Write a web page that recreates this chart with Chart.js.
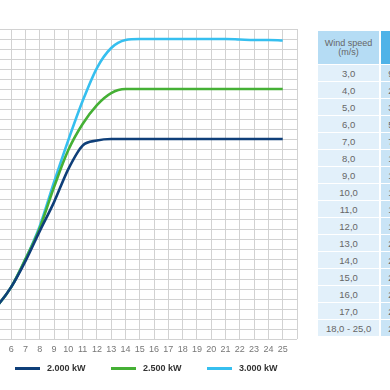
<!DOCTYPE html>
<html>
<head>
<meta charset="utf-8">
<script src="https://cdn.jsdelivr.net/npm/chart.js@4.4.1/dist/chart.umd.min.js"></script>
<style>
    body { margin: 0; background: #fff; width: 390px; height: 390px; overflow: hidden; position: relative; font-family: "Liberation Sans", Arial, sans-serif; }
    #chartBox { position: absolute; left: 0; top: 0; width: 302px; height: 390px; }
    #legend { position: absolute; left: 15px; top: 362px; display: flex; }
    .legendItem { width: 96px; display: flex; align-items: center; font-size: 9px; font-weight: bold; color: #333; height: 12px; }
    .legendLine { width: 25px; height: 3px; margin-right: 7px; }
    #powerTable { position: absolute; left: 318px; top: 30px; width: 104px; table-layout: fixed; border-collapse: separate; border-spacing: 0 1px; color: #666; white-space: nowrap; }
    #powerTable th { background: #b5dcf4; font-weight: normal; font-size: 9px; line-height: 9px; height: 33px; width: 60px; padding: 0; }
    #powerTable th.power { background: #4fb3e8; width: 40px; border-left: 2px solid #fff; }
    #powerTable td { background: #e2f0fa; font-size: 9.5px; height: 16px; text-align: center; padding: 0; }
    #powerTable td.power { background: #c9e4f6; text-align: left; padding-left: 7px; border-left: 2px solid #fff; }
</style>
</head>
<body>
<div id="chartBox"><canvas id="powerCanvas"></canvas></div>
<div id="legend"></div>
<table id="powerTable"></table>
<script>
let windSpeeds = [3, 4, 5, 6, 7, 8, 9, 10, 11, 12, 13, 14, 15, 16, 17, 18, 19, 20, 21, 22, 23, 24, 25];
let power2000 = [90, 200, 330, 520, 780, 1080, 1370, 1700, 1935, 1985, 2000, 2000, 2000, 2000, 2000, 2000, 2000, 2000, 2000, 2000, 2000, 2000, 2000];
let power2500 = [90, 200, 330, 520, 800, 1110, 1520, 1890, 2150, 2340, 2460, 2500, 2500, 2500, 2500, 2500, 2500, 2500, 2500, 2500, 2500, 2500, 2500];
let power3000 = [90, 200, 330, 520, 800, 1130, 1570, 1990, 2380, 2710, 2910, 2990, 3000, 3000, 3000, 3000, 3000, 3000, 3000, 2995, 2990, 2990, 2985];
let seriesLabels = ['2.000 kW', '2.500 kW', '3.000 kW'];
let seriesColors = ['#0f3f79', '#45b035', '#36bfef'];
let xTicks = [6, 7, 8, 9, 10, 11, 12, 13, 14, 15, 16, 17, 18, 19, 20, 21, 22, 23, 24, 25, 26];
let tableRows = ['3,0', '4,0', '5,0', '6,0', '7,0', '8,0', '9,0', '10,0', '11,0', '12,0', '13,0', '14,0', '15,0', '16,0', '17,0', '18,0 - 25,0'];

let fontFamily = '"Liberation Sans", Arial, sans-serif';

function toPoints(values) {
    let points = [];
    for (let i = 0; i < windSpeeds.length; i++) {
        points.push({ x: windSpeeds[i], y: values[i] });
    }
    return points;
}

let allSeries = [power2000, power2500, power3000];
let datasets = [];
for (let i = 0; i < allSeries.length; i++) {
    datasets.push({
        label: seriesLabels[i],
        data: toPoints(allSeries[i]),
        borderColor: seriesColors[i],
        backgroundColor: seriesColors[i],
        borderWidth: 2.6,
        pointRadius: 0,
        cubicInterpolationMode: 'monotone'
    });
}

let ctx = document.getElementById("powerCanvas").getContext("2d");
let powerChart = new Chart(ctx, {
    type: 'line',
    data: { datasets: datasets },
    options: {
        responsive: true,
        maintainAspectRatio: false,
        animation: false,
        layout: { padding: { top: 29, left: 0, right: 1, bottom: 30 } },
        plugins: {
            tooltip: { enabled: false },
            legend: { display: false }
        },
        scales: {
            x: {
                type: 'linear',
                min: 5.22,
                max: 26,
                afterBuildTicks: function (scale) {
                    scale.ticks = xTicks.map(v => ({ value: v }));
                },
                ticks: {
                    padding: 5,
                    autoSkip: false,
                    maxRotation: 0,
                    minRotation: 0,
                    color: '#777',
                    font: { family: fontFamily, size: 9 },
                    callback: function (value) { return value > 25 ? '' : value; }
                },
                grid: { color: '#d2d2d2', lineWidth: 1, drawTicks: false },
                border: { display: false }
            },
            y: {
                min: 0,
                max: 3100,
                ticks: { stepSize: 100, display: false },
                grid: { color: '#d2d2d2', lineWidth: 1, drawTicks: false },
                border: { display: false },
                afterFit: function (scale) { scale.width = 0; }
            }
        }
    }
});

// legend under the chart, one entry per dataset
let legend = document.getElementById("legend");
for (let i = 0; i < powerChart.data.datasets.length; i++) {
    let ds = powerChart.data.datasets[i];
    let item = document.createElement("div");
    item.className = "legendItem";
    let line = document.createElement("span");
    line.className = "legendLine";
    line.style.background = ds.borderColor;
    let text = document.createElement("span");
    text.innerText = ds.label;
    item.appendChild(line);
    item.appendChild(text);
    legend.appendChild(item);
}

// table next to the chart
let table = document.getElementById("powerTable");
let headRow = document.createElement("tr");
headRow.innerHTML = '<th>Wind speed<br>(m/s)</th><th class="power"></th>';
table.appendChild(headRow);
for (let i = 0; i < tableRows.length; i++) {
    let row = document.createElement("tr");
    let cellSpeed = document.createElement("td");
    cellSpeed.innerText = tableRows[i];
    let cellPower = document.createElement("td");
    cellPower.className = "power";
    cellPower.innerText = power2000[i].toLocaleString('de-DE');
    row.appendChild(cellSpeed);
    row.appendChild(cellPower);
    table.appendChild(row);
}
</script>
</body>
</html>
